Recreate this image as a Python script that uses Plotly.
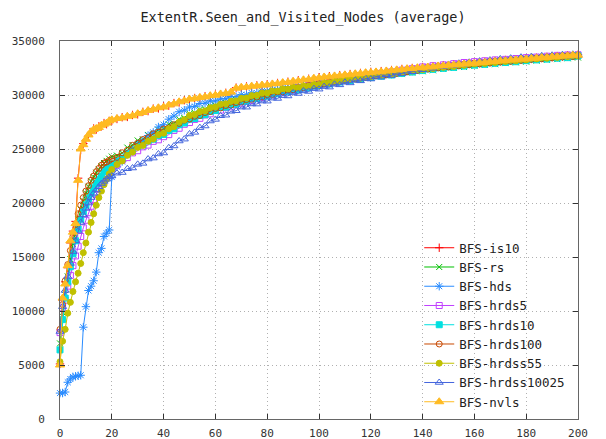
import plotly.graph_objects as go

# x positions: every step up to 20, then every second step up to 200
X = list(range(0, 21)) + list(range(22, 201, 2))

is10 = [5100, 11000, 12700, 14000, 16300, 17400, 18300, 22300, 24900, 25500, 25800, 26200, 26500, 26900, 26800, 27100, 27100, 27400, 27300, 27600, 27600,
        27780, 27940, 27970, 28150, 28210, 28440, 28510, 28740, 28760, 28950,
        29010, 29250, 29310, 29520, 29560, 29720, 29720, 29880, 29880, 30040,
        30040, 30200, 30210, 30680, 30660, 30790, 30760, 30890, 30860, 30990,
        30970, 31110, 31090, 31230, 31210, 31360, 31350, 31500, 31490, 31640,
        31610, 31740, 31710, 31840, 31810, 31940, 31910, 32040, 32010, 32140,
        32090, 32210, 32180, 32310, 32270, 32410, 32380, 32500, 32470, 32590,
        32540, 32660, 32630, 32760, 32710, 32840, 32800, 32920, 32870, 32990,
        32950, 33060, 33030, 33150, 33110, 33240, 33190, 33310, 33270, 33390,
        33340, 33450, 33420, 33530, 33490, 33600, 33560, 33670, 33640, 33730]

rs = [7000, 9500, 11500, 13200, 14800, 16200, 17400, 18500, 19400, 20200, 20900, 21500, 22000, 22400, 22800, 23100, 23400, 23700, 23900, 24100, 24300,
      24390, 24640, 25130, 25370, 25790, 25900, 26300, 26410, 26770, 26870,
      27290, 27370, 27750, 27870, 28260, 28340, 28650, 28670, 28960, 29050,
      29285, 29270, 29525, 29570, 29795, 29770, 29975, 29990, 30225, 30210,
      30365, 30360, 30555, 30520, 30715, 30690, 30865, 30830, 30985, 30970,
      31110, 31095, 31250, 31230, 31410, 31385, 31550, 31500, 31650, 31615,
      31780, 31740, 31890, 31835, 31980, 31940, 32110, 32085, 32250, 32200,
      32340, 32290, 32450, 32410, 32560, 32500, 32640, 32590, 32750, 32710,
      32850, 32780, 32910, 32850, 33000, 32950, 33090, 33020, 33150, 33090,
      33240, 33190, 33330, 33260, 33390, 33320, 33460, 33400, 33530, 33470]

hds = [2400, 2400, 2500, 3400, 3700, 3900, 3950, 4000, 4050, 8500, 10400, 11900, 12300, 12800, 13600, 15400, 15800, 16900, 17200, 17500, 22400,
       23350, 23840, 24540, 24950, 25460, 25760, 26250, 26540, 27040, 27250,
       27760, 28060, 28450, 28590, 28890, 28950, 29210, 29240, 29450, 29440,
       29640, 29650, 29860, 29850, 30030, 30010, 30190, 30180, 30370, 30350,
       30510, 30470, 30640, 30620, 30800, 30760, 30910, 30860, 31020, 30990,
       31160, 31120, 31280, 31240, 31410, 31390, 31570, 31540, 31700, 31660,
       31830, 31800, 31970, 31930, 32090, 32050, 32220, 32200, 32380, 32360,
       32510, 32450, 32610, 32570, 32740, 32690, 32830, 32770, 32920, 32880,
       33030, 32970, 33100, 33030, 33170, 33120, 33270, 33210, 33340, 33270,
       33410, 33360, 33510, 33450, 33580, 33500, 33630, 33570, 33710, 33640]

hrds5 = [8000, 10300, 11000, 12300, 13300, 14200, 15100, 16000, 16900, 17700, 18400, 19100, 19700, 20300, 20800, 21300, 21800, 22200, 22600, 22900, 23200,
         23510, 23960, 24200, 24640, 24840, 25200, 25360, 25710, 25850, 26140,
         26330, 26720, 26920, 27290, 27450, 27740, 27840, 28150, 28260, 28560,
         28605, 28850, 28905, 29170, 29235, 29470, 29495, 29720, 29755, 30000,
         30025, 30240, 30245, 30450, 30465, 30670, 30675, 30870, 30855, 31040,
         31030, 31225, 31220, 31410, 31390, 31555, 31530, 31720, 31710, 31885,
         31840, 32000, 31970, 32145, 32120, 32300, 32270, 32435, 32410, 32600,
         32560, 32710, 32650, 32790, 32740, 32900, 32860, 33010, 32950, 33090,
         33025, 33170, 33115, 33250, 33175, 33300, 33235, 33380, 33325, 33460,
         33385, 33510, 33445, 33590, 33540, 33670, 33590, 33710, 33640, 33730]

hrds10 = [6400, 9200, 11200, 12700, 14100, 15300, 16500, 17600, 18500, 19200, 19800, 20400, 20900, 21400, 21800, 22200, 22500, 22900, 23200, 23400, 23600,
          23900, 24160, 24610, 24850, 25240, 25390, 25750, 25910, 26260, 26350,
          26710, 26870, 27250, 27410, 27760, 27830, 28100, 28180, 28470, 28560,
          28850, 28880, 29110, 29150, 29400, 29430, 29650, 29660, 29870, 29890,
          30100, 30110, 30310, 30300, 30490, 30470, 30660, 30650, 30830, 30870,
          31040, 31020, 31210, 31200, 31380, 31340, 31500, 31470, 31650, 31630,
          31790, 31740, 31890, 31850, 32020, 32000, 32170, 32130, 32290, 32260,
          32420, 32380, 32530, 32470, 32610, 32560, 32720, 32680, 32830, 32770,
          32900, 32840, 32990, 32940, 33080, 33010, 33140, 33080, 33230, 33180,
          33320, 33250, 33380, 33320, 33470, 33410, 33540, 33460, 33580, 33630]

hrds100 = [8300, 10600, 12800, 14300, 15600, 16900, 18000, 19000, 19800, 20500, 21100, 21600, 22100, 22500, 22900, 23200, 23500, 23700, 23800, 23950, 24100,
           24220, 24650, 24880, 25340, 25540, 25880, 26050, 26410, 26560, 26850,
           26950, 27250, 27370, 27670, 27770, 28030, 28100, 28380, 28470, 28760,
           28800, 29030, 29060, 29300, 29350, 29580, 29600, 29810, 29820, 30040,
           30060, 30280, 30290, 30490, 30490, 30680, 30680, 30880, 30870, 31050,
           31020, 31200, 31190, 31380, 31360, 31520, 31480, 31650, 31630, 31810,
           31770, 31920, 31870, 32030, 32000, 32180, 32150, 32310, 32270, 32440,
           32400, 32560, 32510, 32650, 32590, 32740, 32700, 32860, 32810, 32950,
           32880, 33020, 32970, 33120, 33060, 33190, 33120, 33260, 33210, 33360,
           33300, 33430, 33360, 33500, 33450, 33590, 33520, 33640, 33560, 33680]

hrdss55 = [5300, 7200, 8300, 9800, 10800, 11800, 12700, 13500, 14400, 15400, 16300, 17300, 18200, 19000, 19800, 20500, 21100, 21700, 22200, 22700, 23100,
           23570, 23890, 24410, 24710, 25150, 25330, 25720, 25920, 26320, 26460,
           26870, 27070, 27490, 27700, 28110, 28190, 28460, 28530, 28810, 28900,
           29150, 29190, 29420, 29450, 29690, 29720, 29950, 29970, 30180, 30190,
           30375, 30370, 30565, 30550, 30725, 30680, 30845, 30820, 30995, 30960,
           31130, 31100, 31280, 31270, 31460, 31430, 31590, 31550, 31720, 31700,
           31870, 31830, 31980, 31930, 32090, 32070, 32250, 32220, 32380, 32340,
           32490, 32450, 32610, 32560, 32700, 32640, 32790, 32750, 32910, 32860,
           32990, 32920, 33060, 33010, 33160, 33100, 33230, 33160, 33300, 33250,
           33400, 33340, 33470, 33400, 33540, 33480, 33620, 33550, 33670, 33630]

hrdss10025 = [8100, 10400, 11900, 13200, 14400, 15500, 16500, 17400, 18200, 18900, 19500, 20000, 20500, 20900, 21200, 21500, 21800, 22000, 22200, 22400, 22500,
              22760, 22820, 23170, 23240, 23580, 23670, 24070, 24160, 24540, 24630,
              25110, 25280, 25740, 25910, 26390, 26540, 26980, 27130, 27590, 27740,
              28080, 28130, 28490, 28540, 28880, 28870, 29170, 29160, 29440, 29430,
              29710, 29680, 29940, 29910, 30190, 30140, 30380, 30330, 30590, 30540,
              30780, 30730, 30990, 30940, 31180, 31120, 31370, 31310, 31540, 31480,
              31720, 31650, 31870, 31800, 32040, 31980, 32210, 32150, 32400, 32340,
              32550, 32470, 32700, 32620, 32830, 32730, 32940, 32840, 33030, 32930,
              33140, 33040, 33230, 33130, 33340, 33230, 33410, 33300, 33500, 33390,
              33560, 33440, 33630, 33510, 33680, 33550, 33730, 33600, 33760, 33660]

nvls = [5000, 11200, 12500, 14200, 16500, 17300, 18100, 22100, 25000, 25400, 25900, 26300, 26600, 26800, 26900, 27000, 27200, 27300, 27400, 27600, 27700,
        27820, 27880, 28030, 28080, 28270, 28380, 28570, 28680, 28820, 28880,
        29070, 29180, 29370, 29460, 29620, 29660, 29780, 29820, 29940, 29980,
        30100, 30140, 30270, 30630, 30720, 30730, 30820, 30830, 30920, 30930,
        31030, 31050, 31150, 31170, 31270, 31300, 31410, 31440, 31550, 31580,
        31670, 31680, 31770, 31780, 31870, 31880, 31970, 31980, 32070, 32080,
        32140, 32150, 32230, 32260, 32330, 32350, 32440, 32450, 32530, 32530,
        32590, 32610, 32690, 32700, 32770, 32780, 32850, 32860, 32930, 32930,
        32990, 33010, 33090, 33100, 33170, 33180, 33250, 33260, 33330, 33330,
        33390, 33400, 33470, 33480, 33540, 33550, 33610, 33620, 33690, 33690]

series = [
    ("BFS-is10", is10, "#ff0000", "cross-thin-open", 6),
    ("BFS-rs", rs, "#00c000", "x-thin-open", 6),
    ("BFS-hds", hds, "#2a8cff", "asterisk-open", 7),
    ("BFS-hrds5", hrds5, "#c040ff", "square-open", 6),
    ("BFS-hrds10", hrds10, "#00e0e0", "square", 6),
    ("BFS-hrds100", hrds100, "#c84800", "circle-open", 6),
    ("BFS-hrdss55", hrdss55, "#c0c000", "circle", 6),
    ("BFS-hrdss10025", hrdss10025, "#4466dd", "triangle-up-open", 7),
    ("BFS-nvls", nvls, "#ffbb22", "triangle-up", 8),
]

MONO = "DejaVu Sans Mono"

fig = go.Figure()
for name, ys, color, symbol, size in series:
    fig.add_trace(go.Scatter(
        x=X, y=ys, name=name, mode="lines+markers",
        line=dict(color=color, width=1),
        marker=dict(symbol=symbol, size=size, color=color,
                    line=dict(color=color, width=1)),
        cliponaxis=False,
    ))

axis_common = dict(
    showgrid=True, gridcolor="#b0b0b0", griddash="1px,3px", gridwidth=1,
    ticks="inside", ticklen=5, tickcolor="#333333", tickwidth=1,
    showline=True, linecolor="#666666", linewidth=1, mirror="ticks",
    zeroline=False,
    tickfont=dict(family=MONO, size=11, color="#333333"),
)

fig.update_xaxes(range=[0, 200], tick0=0, dtick=20, ticklabelstandoff=4,
                 automargin=False, **axis_common)
fig.update_yaxes(range=[0, 35000], tick0=0, dtick=5000, tickformat="d",
                 ticklabelstandoff=12, automargin=True, **axis_common)

fig.update_layout(
    width=606, height=439,
    margin=dict(l=60, r=28, t=41, b=20),
    paper_bgcolor="white", plot_bgcolor="white",
    title=dict(text="ExtentR.Seen_and_Visited_Nodes (average)",
               font=dict(family=MONO, size=13.5, color="#222222"),
               x=0.5, xref="container", xanchor="center",
               y=1 - 17 / 439, yref="container", yanchor="middle"),
    legend=dict(x=0.985, xanchor="right", y=0.005, yanchor="bottom",
                bgcolor="rgba(0,0,0,0)", borderwidth=0,
                font=dict(family=MONO, size=12.5, color="#222222"),
                tracegroupgap=0, itemwidth=30),
    showlegend=True,
)

fig.write_html("out.html")
